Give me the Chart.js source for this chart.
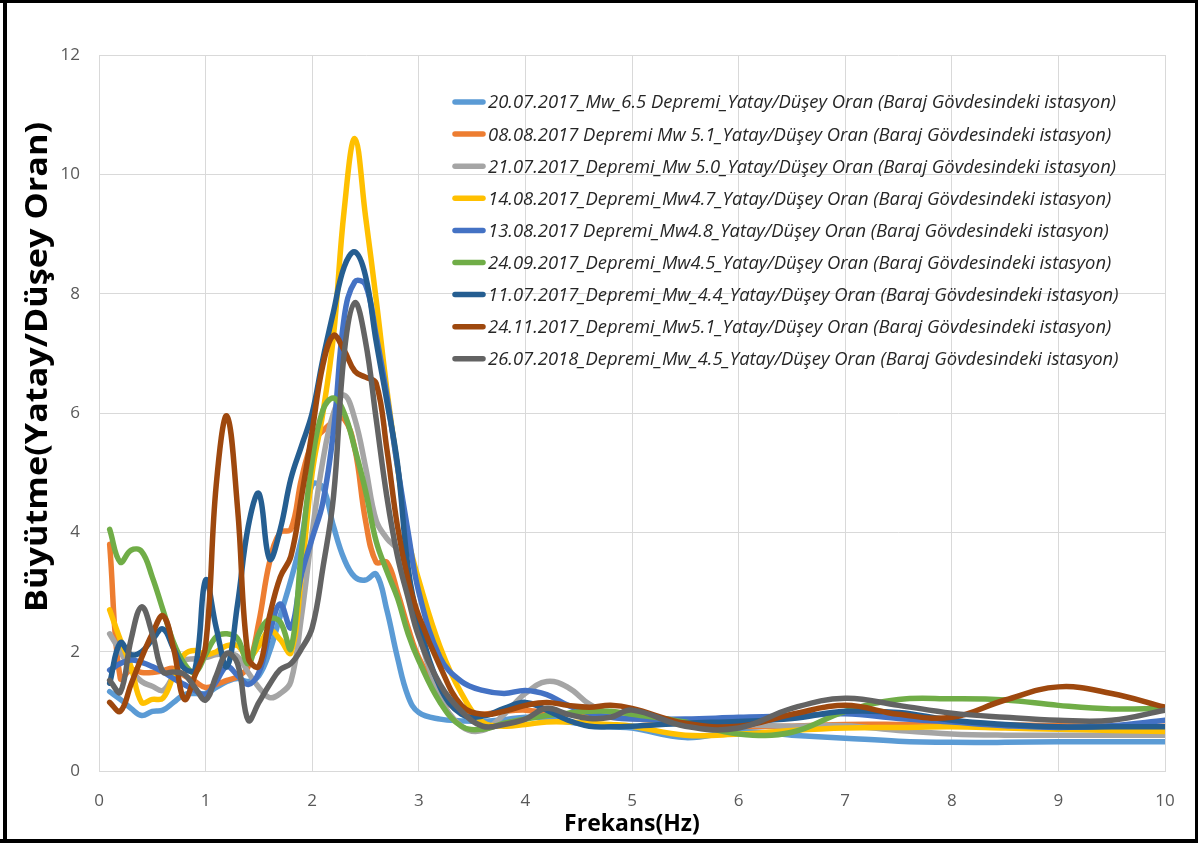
<!DOCTYPE html>
<html>
<head>
<meta charset="utf-8">
<script src="https://cdn.jsdelivr.net/npm/chart.js@4.4.1/dist/chart.umd.min.js"></script>
<style>
  html, body { margin: 0; padding: 0; background: #fff; }
  #wrap { width: 1198px; height: 843px; }
</style>
</head>
<body>
<div id="wrap"><canvas id="hv" width="1198" height="843"></canvas></div>
<script>
// frekans (Hz)
const freq = [0.1, 0.2, 0.3, 0.4, 0.5, 0.6, 0.7, 0.8, 0.9, 1.0,
              1.1, 1.2, 1.3, 1.4, 1.5, 1.6, 1.7, 1.8, 1.9, 2.0,
              2.1, 2.2, 2.3, 2.4, 2.5, 2.6, 2.7, 2.8, 2.9, 3.0,
              3.2, 3.4, 3.6, 3.8, 4.0, 4.2, 4.4, 4.6, 4.8, 5.0,
              5.5, 6.0, 6.5, 7.0, 7.5, 8.0, 8.5, 9.0, 9.5, 10.0];

// Yatay/Düşey oranları, her deprem için
const hv20072017 = [1.33, 1.2, 1.05, 0.93, 1.0, 1.02, 1.15, 1.28, 1.3, 1.3,
                    1.4, 1.5, 1.55, 1.5, 1.6, 2.0, 2.6, 3.2, 3.9, 4.8,
                    4.75, 4.1, 3.55, 3.25, 3.2, 3.3, 2.7, 1.9, 1.25, 0.98,
                    0.87, 0.84, 0.83, 0.86, 0.9, 0.88, 0.82, 0.78, 0.74, 0.72,
                    0.56, 0.66, 0.6, 0.55, 0.5, 0.48, 0.48, 0.49, 0.49, 0.49];
const hv08082017 = [3.8, 1.55, 1.7, 1.65, 1.65, 1.68, 1.72, 1.6, 1.5, 1.4,
                    1.45, 1.52, 1.58, 1.75, 2.5, 3.5, 4.0, 4.05, 4.9, 5.5,
                    5.7, 5.85, 5.9, 5.4, 4.2, 3.5, 3.5, 3.0, 2.4, 1.9,
                    1.3, 0.98, 0.95, 1.0, 1.02, 0.98, 0.95, 0.92, 0.9, 0.88,
                    0.8, 0.75, 0.75, 0.78, 0.78, 0.77, 0.77, 0.76, 0.75, 0.75];
const hv21072017 = [2.3, 2.0, 1.7, 1.5, 1.42, 1.35, 1.6, 1.85, 1.88, 1.9,
                    1.95, 1.97, 1.92, 1.65, 1.4, 1.23, 1.3, 1.5, 2.6, 4.0,
                    5.2, 6.0, 6.3, 5.9, 5.1, 4.2, 3.9, 3.7, 3.1, 2.3,
                    1.25, 0.75, 0.68, 0.95, 1.3, 1.5, 1.4, 1.12, 0.95, 0.9,
                    0.8, 0.78, 0.75, 0.76, 0.68, 0.62, 0.6, 0.6, 0.6, 0.6];
const hv14082017 = [2.7, 2.2, 1.75, 1.15, 1.2, 1.22, 1.6, 1.95, 2.02, 1.95,
                    2.0, 2.1, 2.1, 1.9, 2.1, 2.36, 2.2, 1.98, 3.3, 5.0,
                    6.0, 7.3, 9.4, 10.6, 9.3, 7.9, 6.4, 5.1, 3.9, 3.2,
                    2.08, 1.3, 0.82, 0.75, 0.78, 0.82, 0.82, 0.8, 0.78, 0.75,
                    0.6, 0.62, 0.68, 0.72, 0.73, 0.74, 0.72, 0.7, 0.68, 0.66];
const hv13082017 = [1.69, 1.8, 1.86, 1.82, 1.75, 1.66, 1.55, 1.45, 1.35, 1.28,
                    1.5, 1.75, 1.6, 1.45, 1.65, 2.3, 2.8, 2.4, 3.3, 3.9,
                    4.5, 5.7, 7.6, 8.2, 8.15, 7.3, 6.3, 5.1, 4.0, 3.0,
                    1.9, 1.5, 1.35, 1.3, 1.35, 1.28, 1.1, 0.97, 0.9, 0.87,
                    0.87, 0.9, 0.92, 0.96, 0.88, 0.82, 0.76, 0.73, 0.76, 0.85];
const hv24092017 = [4.05, 3.5, 3.7, 3.68, 3.25, 2.7, 2.15, 1.8, 1.65, 1.95,
                    2.25, 2.3, 2.22, 1.8, 2.3, 2.55, 2.5, 2.05, 3.7, 5.2,
                    6.05, 6.25, 6.0, 5.4, 4.7, 3.85, 3.35, 2.9, 2.3, 1.85,
                    1.15, 0.75, 0.7, 0.8, 0.87, 0.93, 0.97, 1.0, 1.0, 0.95,
                    0.82, 0.62, 0.65, 1.0, 1.2, 1.21, 1.19, 1.1, 1.04, 1.05];
const hv11072017 = [1.47, 2.15, 1.95, 2.0, 2.2, 2.38, 2.05, 1.72, 1.7, 3.2,
                    2.4, 1.75, 2.8, 4.1, 4.65, 3.55, 4.05, 4.9, 5.45, 6.0,
                    6.9, 7.7, 8.45, 8.7, 8.3, 7.2, 6.2, 5.15, 3.4, 2.5,
                    1.4, 0.95, 0.92, 1.05, 1.15, 1.02, 0.85, 0.75, 0.74, 0.75,
                    0.8, 0.83, 0.88, 1.0, 0.98, 0.85, 0.78, 0.74, 0.74, 0.74];
const hv24112017 = [1.15, 1.0, 1.45, 1.9, 2.3, 2.6, 2.05, 1.2, 1.6, 2.1,
                    4.8, 5.95, 4.4, 1.9, 1.75, 2.6, 3.25, 3.6, 4.6, 5.7,
                    6.8, 7.3, 7.05, 6.7, 6.6, 6.5, 5.4, 4.1, 3.2, 2.6,
                    1.75, 1.1, 0.95, 1.0, 1.1, 1.15, 1.1, 1.07, 1.1, 1.05,
                    0.8, 0.75, 0.95, 1.1, 0.95, 0.9, 1.19, 1.41, 1.3, 1.07];
const hv26072018 = [1.52, 1.32, 2.2, 2.75, 2.3, 1.66, 1.66, 1.62, 1.4, 1.19,
                    1.6, 1.97, 1.8, 0.85, 1.15, 1.45, 1.7, 1.8, 2.05, 2.4,
                    3.4, 4.6, 7.0, 7.85, 7.2, 5.9, 4.6, 3.6, 2.9, 2.25,
                    1.45, 1.0, 0.75, 0.78, 0.87, 1.05, 0.95, 0.88, 0.9, 1.02,
                    0.75, 0.72, 1.05, 1.22, 1.1, 0.97, 0.9, 0.85, 0.85, 1.02];

const series = [hv20072017, hv08082017, hv21072017, hv14082017, hv13082017,
                hv24092017, hv11072017, hv24112017, hv26072018];

const seriesLabels = [
  '20.07.2017_Mw_6.5 Depremi_Yatay/Düşey Oran (Baraj Gövdesindeki istasyon)',
  '08.08.2017 Depremi Mw 5.1_Yatay/Düşey Oran (Baraj Gövdesindeki istasyon)',
  '21.07.2017_Depremi_Mw 5.0_Yatay/Düşey Oran (Baraj Gövdesindeki istasyon)',
  '14.08.2017_Depremi_Mw4.7_Yatay/Düşey Oran (Baraj Gövdesindeki istasyon)',
  '13.08.2017 Depremi_Mw4.8_Yatay/Düşey Oran (Baraj Gövdesindeki istasyon)',
  '24.09.2017_Depremi_Mw4.5_Yatay/Düşey Oran (Baraj Gövdesindeki istasyon)',
  '11.07.2017_Depremi_Mw_4.4_Yatay/Düşey Oran (Baraj Gövdesindeki istasyon)',
  '24.11.2017_Depremi_Mw5.1_Yatay/Düşey Oran (Baraj Gövdesindeki istasyon)',
  '26.07.2018_Depremi_Mw_4.5_Yatay/Düşey Oran (Baraj Gövdesindeki istasyon)'
];

const seriesColors = ['#5B9BD5', '#ED7D31', '#A5A5A5', '#FFC000', '#4472C4',
                      '#70AD47', '#255E91', '#9E480E', '#636363'];

const xTitle = 'Frekans(Hz)';
const yTitle = 'Büyütme(Yatay/Düşey Oran)';

const gridColor = '#D9D9D9';
const tickFont = { family: 'Open Sans', size: 17 };

// legend drawn inside the plot, top right
const innerLegend = {
  id: 'innerLegend',
  afterDraw(chart) {
    const ctx = chart.ctx;
    const x0 = 455, y0 = 102, rowH = 32.1, textX = 488, firstW = 628;
    ctx.save();
    ctx.font = 'italic 19px "Open Sans"';
    const sx = firstW / ctx.measureText(chart.data.datasets[0].label).width;
    chart.data.datasets.forEach((ds, i) => {
      const y = y0 + i * rowH;
      ctx.strokeStyle = ds.borderColor;
      ctx.lineWidth = 5.5;
      ctx.lineCap = 'round';
      ctx.beginPath();
      ctx.moveTo(x0, y);
      ctx.lineTo(x0 + 28, y);
      ctx.stroke();
      ctx.save();
      ctx.translate(textX, y);
      ctx.scale(sx, 1);
      ctx.fillStyle = '#262626';
      ctx.textBaseline = 'middle';
      ctx.textAlign = 'left';
      ctx.fillText(ds.label, 0, 1);
      ctx.restore();
    });
    ctx.restore();
  }
};

// vertical axis title and outer frame
const decorations = {
  id: 'decorations',
  afterDraw(chart) {
    const ctx = chart.ctx;
    ctx.save();
    ctx.translate(47, 367);
    ctx.rotate(-Math.PI / 2);
    ctx.font = 'bold 30px "Open Sans"';
    const s = 490 / ctx.measureText(yTitle).width;
    ctx.scale(s, 1);
    ctx.fillStyle = '#000';
    ctx.textAlign = 'center';
    ctx.textBaseline = 'alphabetic';
    ctx.fillText(yTitle, 0, 0);
    ctx.restore();

    ctx.save();
    ctx.fillStyle = '#000';
    ctx.fillRect(3, 0, 4, 843);
    ctx.fillRect(0, 0, 1198, 3);
    ctx.fillRect(1195, 0, 3, 843);
    ctx.fillRect(0, 839, 1198, 4);
    ctx.restore();
  }
};

new Chart(document.getElementById('hv'), {
  type: 'line',
  data: {
    datasets: series.map((vals, i) => ({
      label: seriesLabels[i],
      data: freq.map((f, j) => ({ x: f, y: vals[j] })),
      borderColor: seriesColors[i],
      backgroundColor: seriesColors[i],
      borderWidth: 5.5,
      pointRadius: 0,
      tension: 0.4,
      borderCapStyle: 'round',
      borderJoinStyle: 'round',
      fill: false,
      order: series.length - i
    }))
  },
  options: {
    responsive: false,
    animation: false,
    layout: { padding: { left: 0, right: 33, top: 55, bottom: 0 } },
    plugins: {
      legend: { display: false },
      tooltip: { enabled: false }
    },
    scales: {
      x: {
        type: 'linear',
        min: 0,
        max: 10,
        afterFit: s => { s.height = 72; },
        ticks: { stepSize: 1, color: '#595959', font: tickFont, padding: 20 },
        grid: { color: gridColor, drawTicks: false },
        border: { color: gridColor },
        title: {
          display: true,
          text: xTitle,
          color: '#000',
          font: { family: 'Open Sans', size: 23, weight: 'bold' },
          padding: { top: 0, bottom: 5 }
        }
      },
      y: {
        min: 0,
        max: 12,
        afterFit: s => { s.width = 99; },
        ticks: { stepSize: 2, color: '#595959', font: tickFont, padding: 19 },
        grid: { color: gridColor, drawTicks: false },
        border: { color: gridColor }
      }
    }
  },
  plugins: [innerLegend, decorations]
});
</script>
</body>
</html>
